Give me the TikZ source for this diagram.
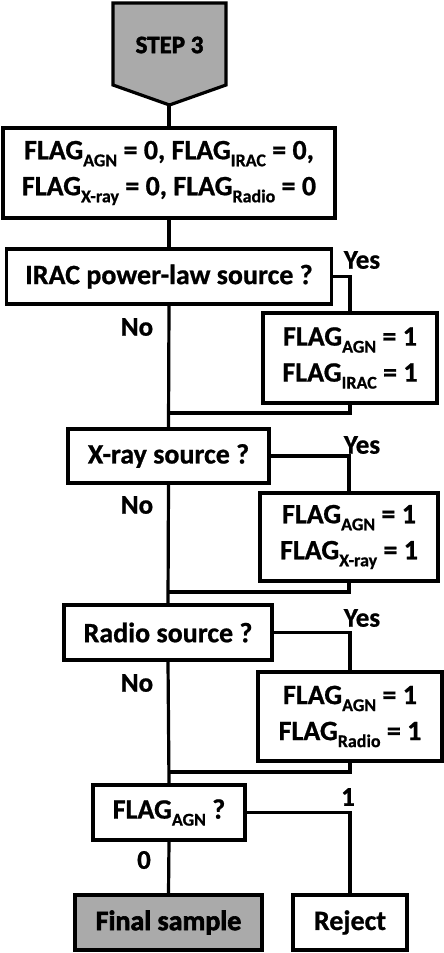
\documentclass[tikz,border=0pt]{standalone}
\usepackage{fontspec}
\setmainfont{Carlito}[BoldFeatures={FakeBold=0.8}]
\newfontfamily\heavyfont{Carlito}[UprightFont=*-Bold, FakeBold=2.2]
\definecolor{boxgray}{RGB}{170,170,170}
\newcommand{\lowsub}[1]{\raisebox{-7pt}{\fontsize{18}{18}\selectfont #1}}
\begin{document}
\begin{tikzpicture}[x=1pt,y=-1pt,
  every node/.style={font=\fontsize{28}{34}\selectfont\bfseries},
  box/.style={draw=black, line width=3.2pt, fill=white, align=center, inner sep=0pt},
  lbl/.style={inner sep=0pt, font=\fontsize{27}{30}\selectfont\bfseries},
  conn/.style={line width=3.2pt}]
\useasboundingbox (0,0) rectangle (444,953);
% STEP 3 pentagon
\draw[line width=3.2pt, fill=boxgray] (113,3) -- (226,3) -- (226,85) -- (169.5,105) -- (113,85) -- cycle;
\node[inner sep=0pt, font=\fontsize{25}{28}\heavyfont] (step) at (169.5,45) {STEP 3};
\coordinate (tip) at (169,105);
% boxes
\node[box, minimum width=332pt, minimum height=90pt] (init) at (169,173)
  {FLAG\lowsub{AGN} = 0, FLAG\lowsub{IRAC} = 0,\\[2pt] FLAG\lowsub{X-ray} = 0, FLAG\lowsub{Radio} = 0};
\node[box, minimum width=325pt, minimum height=55pt] (irac) at (169,276.5) {IRAC power-law source ?};
\node[box, minimum width=174pt, minimum height=90pt] (f1) at (350,358)
  {FLAG\lowsub{AGN} = 1\\[2pt] FLAG\lowsub{IRAC} = 1};
\node[box, minimum width=201pt, minimum height=54pt] (xray) at (168.5,456) {X-ray source ?};
\node[box, minimum width=178pt, minimum height=88pt] (f2) at (349,537)
  {FLAG\lowsub{AGN} = 1\\[2pt] FLAG\lowsub{X-ray} = 1};
\node[box, minimum width=208pt, minimum height=55pt] (radio) at (168,632.5) {Radio source ?};
\node[box, minimum width=184pt, minimum height=89pt] (f3) at (350,716.5)
  {FLAG\lowsub{AGN} = 1\\[2pt] FLAG\lowsub{Radio} = 1};
\node[box, minimum width=152pt, minimum height=55pt] (agn) at (169,812.5) {FLAG\lowsub{AGN} ?};
\node[box, fill=boxgray, minimum width=187pt, minimum height=55pt, font=\fontsize{28}{34}\heavyfont] (final) at (168.5,922.5) {Final sample};
\node[box, minimum width=114pt, minimum height=55pt] (reject) at (350,922.5) {Reject};
% merge coordinates
\coordinate (m1) at (169,413);
\coordinate (m2) at (169,592);
\coordinate (m3) at (169,772);
% connectors
\draw[conn] (tip) -- (init.north);
\draw[conn] (init.south) -- (irac.north);
\draw[conn] (irac.east) -| (f1.north);
\draw[conn] (f1.south) |- (m1);
\draw[conn] (irac.south) -- (xray.north);
\draw[conn] (xray.east) -| (f2.north);
\draw[conn] (f2.south) |- (m2);
\draw[conn] (xray.south) -- (radio.north);
\draw[conn] (radio.east) -| (f3.north);
\draw[conn] (f3.south) |- (m3);
\draw[conn] (radio.south) -- (agn.north);
\draw[conn] (agn.east) -| (reject.north);
\draw[conn] (agn.south) -- (final.north);
% labels
\node[lbl] (y1) at (362,260) {Yes};
\node[lbl] (n1) at (137,327) {No};
\node[lbl] (y2) at (362,445) {Yes};
\node[lbl] (n2) at (137,505) {No};
\node[lbl] (y3) at (362,618) {Yes};
\node[lbl] (n3) at (137,683) {No};
\node[lbl] (one) at (348,797) {1};
\node[lbl] (zero) at (144,860) {0};
\end{tikzpicture}
\end{document}
